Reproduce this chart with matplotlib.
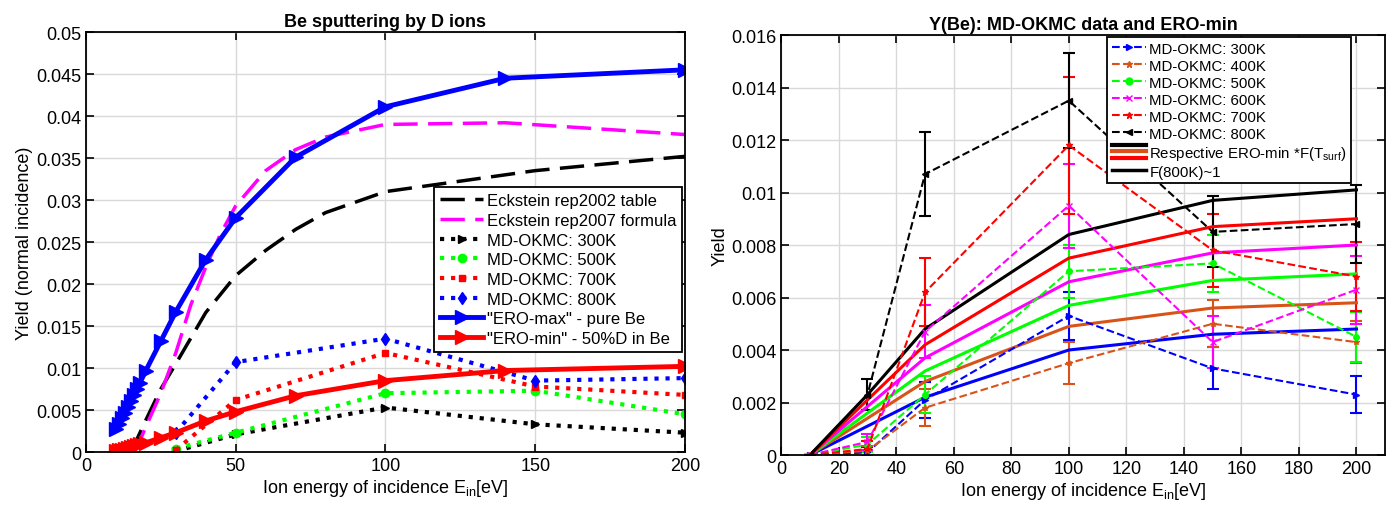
import matplotlib
matplotlib.use("Agg")
import matplotlib.pyplot as plt
from matplotlib.lines import Line2D
from matplotlib.legend_handler import HandlerBase
from matplotlib.ticker import FormatStrFormatter, MultipleLocator

plt.rcParams["font.family"] = ["Liberation Sans Narrow", "Liberation Sans", "DejaVu Sans"]
plt.rcParams["mathtext.fontset"] = "custom"
plt.rcParams["mathtext.rm"] = "Liberation Sans"
plt.rcParams["mathtext.it"] = "Liberation Sans"

# ---- left panel data ----
ecks02_x = [15, 17, 20, 25, 30, 40, 50, 60, 70, 80, 100, 150, 200]
ecks02_y = [0, 0.0015, 0.0038, 0.0075, 0.0105, 0.0166, 0.021, 0.024, 0.0265, 0.0285, 0.031, 0.0335, 0.0352]
ecks07_x = [16, 17, 20, 25, 30, 35, 40, 45, 50, 60, 70, 80, 100, 140, 200]
ecks07_y = [0, 0.0005, 0.003, 0.007, 0.0118, 0.0175, 0.022, 0.026, 0.0293, 0.0335, 0.036, 0.0375, 0.039, 0.0392, 0.0378]

ero_x = [10, 11, 12, 13, 14, 15, 16, 17, 18, 20, 25, 30, 40, 50, 70, 100, 140, 200]
ero_max = [0.0027, 0.0033, 0.0040, 0.0047, 0.0054, 0.0061, 0.0068, 0.0075, 0.0082, 0.0097,
           0.0132, 0.0167, 0.0229, 0.0279, 0.0351, 0.0411, 0.0445, 0.0455]
ero_min = [0.0001, 0.0002, 0.0003, 0.0004, 0.0005, 0.0006, 0.0007, 0.0008, 0.0009, 0.0011,
           0.0017, 0.0023, 0.0037, 0.0048, 0.0067, 0.0085, 0.0097, 0.0102]

# ---- MD-OKMC data (shared), energies in eV ----
md_x = [10, 30, 50, 100, 150, 200]
md_300 = [0, 0.0001, 0.0021, 0.0053, 0.0033, 0.0023]
md_400 = [0, 0.00016, 0.0018, 0.0035, 0.0050, 0.0043]
md_500 = [0, 0.0004, 0.0023, 0.0070, 0.0073, 0.0045]
md_600 = [0, 0.0005, 0.0047, 0.0095, 0.0043, 0.0063]
md_700 = [0, 0.00023, 0.0062, 0.0118, 0.0078, 0.0068]
md_800 = [0, 0.0023, 0.0107, 0.0135, 0.0085, 0.0088]
err_300 = [0, 0.0002, 0.0007, 0.0009, 0.0008, 0.0007]
err_400 = [0, 0.0002, 0.0007, 0.0008, 0.0009, 0.0008]
err_500 = [0, 0.0003, 0.0007, 0.0010, 0.0011, 0.00095]
err_600 = [0, 0.0003, 0.0010, 0.0016, 0.0010, 0.0013]
err_700 = [0, 0.0003, 0.0013, 0.0026, 0.0014, 0.0013]
err_800 = [0, 0.0006, 0.0016, 0.0018, 0.00135, 0.0015]

# ---- ERO-min * F(T_surf) ----
fero_800 = [0, 0.0023, 0.0048, 0.0084, 0.0097, 0.0101]
fero_700 = [0, 0.0021, 0.0042, 0.0075, 0.0087, 0.0090]
fero_600 = [0, 0.00185, 0.0037, 0.0066, 0.0077, 0.0080]
fero_500 = [0, 0.0016, 0.0032, 0.0057, 0.00665, 0.0069]
fero_400 = [0, 0.0014, 0.0028, 0.0049, 0.0056, 0.0058]
fero_300 = [0, 0.0011, 0.0022, 0.0040, 0.0046, 0.0048]

ORANGE = (0.85, 0.325, 0.098)
MAGENTA = (1, 0, 1)
GREEN = (0, 1, 0)


class StackedLines(HandlerBase):
    """legend handle drawing three thick lines on top of each other"""

    def create_artists(self, legend, orig_handle, xdescent, ydescent, width, height, fontsize, trans):
        arts = []
        offs = [1.15, 0.5, -0.15]
        for line, f in zip(orig_handle, offs):
            y = height * f - ydescent
            arts.append(Line2D([-xdescent, -xdescent + width], [y, y], color=line.get_color(),
                               lw=line.get_linewidth(), transform=trans))
        return arts


def style_axes(ax):
    ax.grid(True, color="0.85", lw=1.0)
    ax.set_axisbelow(True)
    ax.tick_params(direction="in", top=True, right=True, length=6, width=1.2, labelsize=13)
    for s in ax.spines.values():
        s.set_linewidth(1.3)
    ax.yaxis.set_major_formatter(FormatStrFormatter("%g"))


fig = plt.figure(figsize=(13.95, 5.06), dpi=100)
ax1 = fig.add_axes([0.0616, 0.1047, 0.4294, 0.830])
ax2 = fig.add_axes([0.560, 0.0988, 0.433, 0.830])

# ---------------- left panel ----------------
ax1.plot(ecks02_x, ecks02_y, color="k", ls=(0, (7, 3)), lw=2.5, label="Eckstein rep2002 table")
ax1.plot(ecks07_x, ecks07_y, color=MAGENTA, ls=(0, (7, 3)), lw=2.5, label="Eckstein rep2007 formula")
ax1.plot(md_x[1:], md_300[1:], color="k", ls=":", lw=3, marker=">", ms=6, label="MD-OKMC: 300K")
ax1.plot(md_x[1:], md_500[1:], color=GREEN, ls=":", lw=3, marker="o", ms=6, label="MD-OKMC: 500K")
ax1.plot(md_x[1:], md_700[1:], color="r", ls=":", lw=3, marker="s", ms=4, label="MD-OKMC: 700K")
ax1.plot(md_x[1:], md_800[1:], color="b", ls=":", lw=3, marker="d", ms=6, label="MD-OKMC: 800K")
ax1.plot(ero_x, ero_max, color="b", lw=3.5, marker=">", ms=10, label='"ERO-max" - pure Be')
ax1.plot(ero_x, ero_min, color="r", lw=3.5, marker=">", ms=10, label='"ERO-min" - 50%D in Be')

ax1.set_xlim(0, 200)
ax1.set_ylim(0, 0.05)
ax1.xaxis.set_major_locator(MultipleLocator(50))
ax1.yaxis.set_major_locator(MultipleLocator(0.005))
style_axes(ax1)
ax1.set_title("Be sputtering by D ions", fontsize=13, fontweight="bold", pad=4)
ax1.set_xlabel("Ion energy of incidence E$_{\\rm in}$[eV]", fontsize=13, labelpad=2)
ax1.set_ylabel("Yield (normal incidence)", fontsize=13, labelpad=2)
leg1 = ax1.legend(loc="upper right", bbox_to_anchor=(0.995, 0.63), fontsize=12, labelspacing=0.28,
                  handlelength=2.6, handletextpad=0.2, borderpad=0.35, borderaxespad=0,
                  fancybox=False, framealpha=1, edgecolor="k")
leg1.get_frame().set_linewidth(1.3)

# ---------------- right panel ----------------
md_sets = [
    (md_300, err_300, "b", ">", "MD-OKMC: 300K"),
    (md_400, err_400, ORANGE, "*", "MD-OKMC: 400K"),
    (md_500, err_500, GREEN, "o", "MD-OKMC: 500K"),
    (md_600, err_600, MAGENTA, "x", "MD-OKMC: 600K"),
    (md_700, err_700, "r", "*", "MD-OKMC: 700K"),
    (md_800, err_800, "k", "<", "MD-OKMC: 800K"),
]
handles = []
for vals, err, col, mk, lab in md_sets:
    ax2.errorbar(md_x, vals, yerr=err, color=col, ls="--", lw=1.5, marker=mk, ms=4,
                 capsize=4, capthick=1.5, elinewidth=1.5)
    handles.append(Line2D([], [], color=col, ls="--", lw=1.5, marker=mk, ms=5))

fero = [(fero_300, "b"), (fero_400, ORANGE), (fero_500, GREEN),
        (fero_600, MAGENTA), (fero_700, "r")]
for vals, col in fero:
    ax2.plot(md_x, vals, color=col, lw=2.2)
ax2.plot(md_x, fero_800, color="k", lw=2.2)

stack = (Line2D([], [], color="k", lw=3), Line2D([], [], color=ORANGE, lw=3), Line2D([], [], color="r", lw=3))
handles.append(stack)
handles.append(Line2D([], [], color="k", lw=2.5))
labels = [s[4] for s in md_sets] + ["Respective ERO-min *F(T$_{\\rm surf}$)", "F(800K)~1"]

ax2.set_xlim(0, 210)
ax2.set_ylim(0, 0.016)
ax2.xaxis.set_major_locator(MultipleLocator(20))
ax2.yaxis.set_major_locator(MultipleLocator(0.002))
style_axes(ax2)
ax2.set_title("Y(Be): MD-OKMC data and ERO-min", fontsize=13, fontweight="bold", pad=4)
ax2.set_xlabel("Ion energy of incidence E$_{\\rm in}$[eV]", fontsize=13, labelpad=2)
ax2.set_ylabel("Yield", fontsize=13, labelpad=2)
leg2 = ax2.legend(handles, labels, handler_map={tuple: StackedLines()},
                  loc="upper left", bbox_to_anchor=(0.54, 0.995), fontsize=10.8, labelspacing=0.2,
                  handlelength=2.3, handletextpad=0.2, borderpad=0.3, borderaxespad=0,
                  fancybox=False, framealpha=1, edgecolor="k")
leg2.get_frame().set_linewidth(1.3)

fig.savefig("out.png", dpi=100)
